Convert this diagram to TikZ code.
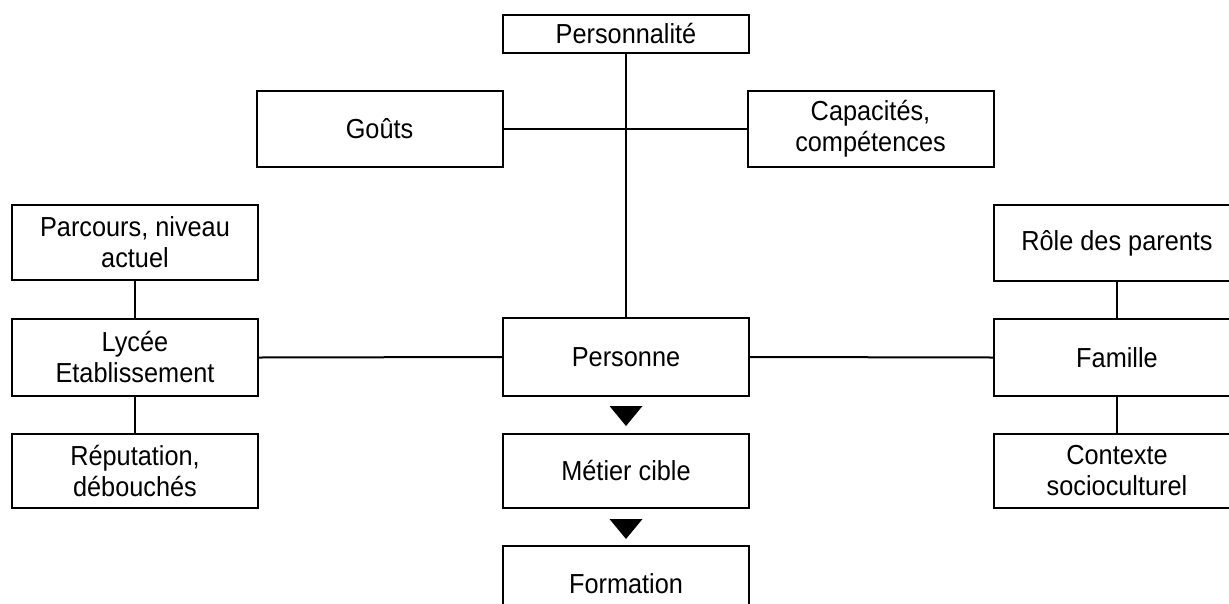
\documentclass[tikz,border=0pt]{standalone}
\usepackage{fontspec}
\setmainfont{Liberation Sans}[FakeStretch=0.92]
\usetikzlibrary{calc}
\begin{document}
\begin{tikzpicture}[x=1pt,y=-1pt,
  box/.style={draw=black,line width=2pt,rectangle,inner sep=0pt,
    minimum width=246pt,minimum height=76pt,align=center,
    font=\fontsize{27.5}{31}\selectfont},
  link/.style={draw=black,line width=2pt},
  tri/.style={fill=black}]
\useasboundingbox (0,0) rectangle (1229,603);
\clip (0,0) rectangle (1229,603);
\fill[white] (0,0) rectangle (1229,603);
\node[box,minimum height=38pt] (pers) at (626,34) {Personnalité};
\node[box] (gouts) at (379.5,129) {Goûts};
\node[box] (capa) at (870.5,129) {Capacités,\\compétences};
\node[box,minimum height=75pt] (parc) at (135,242.5) {Parcours, niveau\\actuel};
\node[box,minimum height=77pt] (lycee) at (135,357.5) {Lycée\\Etablissement};
\node[box,minimum height=74pt] (repu) at (135,471) {Réputation,\\débouchés};
\node[box,minimum height=78pt] (personne) at (626,357) {Personne};
\node[box,minimum height=74pt] (metier) at (626,471) {Métier cible};
\node[box,minimum height=76pt] (formation) at (626,584) {Formation};
\node[box] (role) at (1117,243) {Rôle des parents};
\node[box,minimum height=77pt] (famille) at (1117,357.5) {Famille};
\node[box,minimum height=74pt] (contexte) at (1117,471) {Contexte\\socioculturel};
\draw[link] (pers.south) -- (personne.north);
\draw[link] (gouts.east) -- (capa.west);
\draw[link] (lycee.east) -- (personne.west);
\draw[link] (personne.east) -- (famille.west);
\draw[link] (parc.south) -- (lycee.north);
\draw[link] (lycee.south) -- (repu.north);
\draw[link] (role.south) -- (famille.north);
\draw[link] (famille.south) -- (contexte.north);
\fill[tri] ($(personne.south)+(-16.5,9)$) -- ++(33,0) -- ($(personne.south)+(0,29)$) -- cycle;
\fill[tri] ($(metier.south)+(-16.5,10)$) -- ++(33,0) -- ($(metier.south)+(0,30)$) -- cycle;
\end{tikzpicture}
\end{document}
